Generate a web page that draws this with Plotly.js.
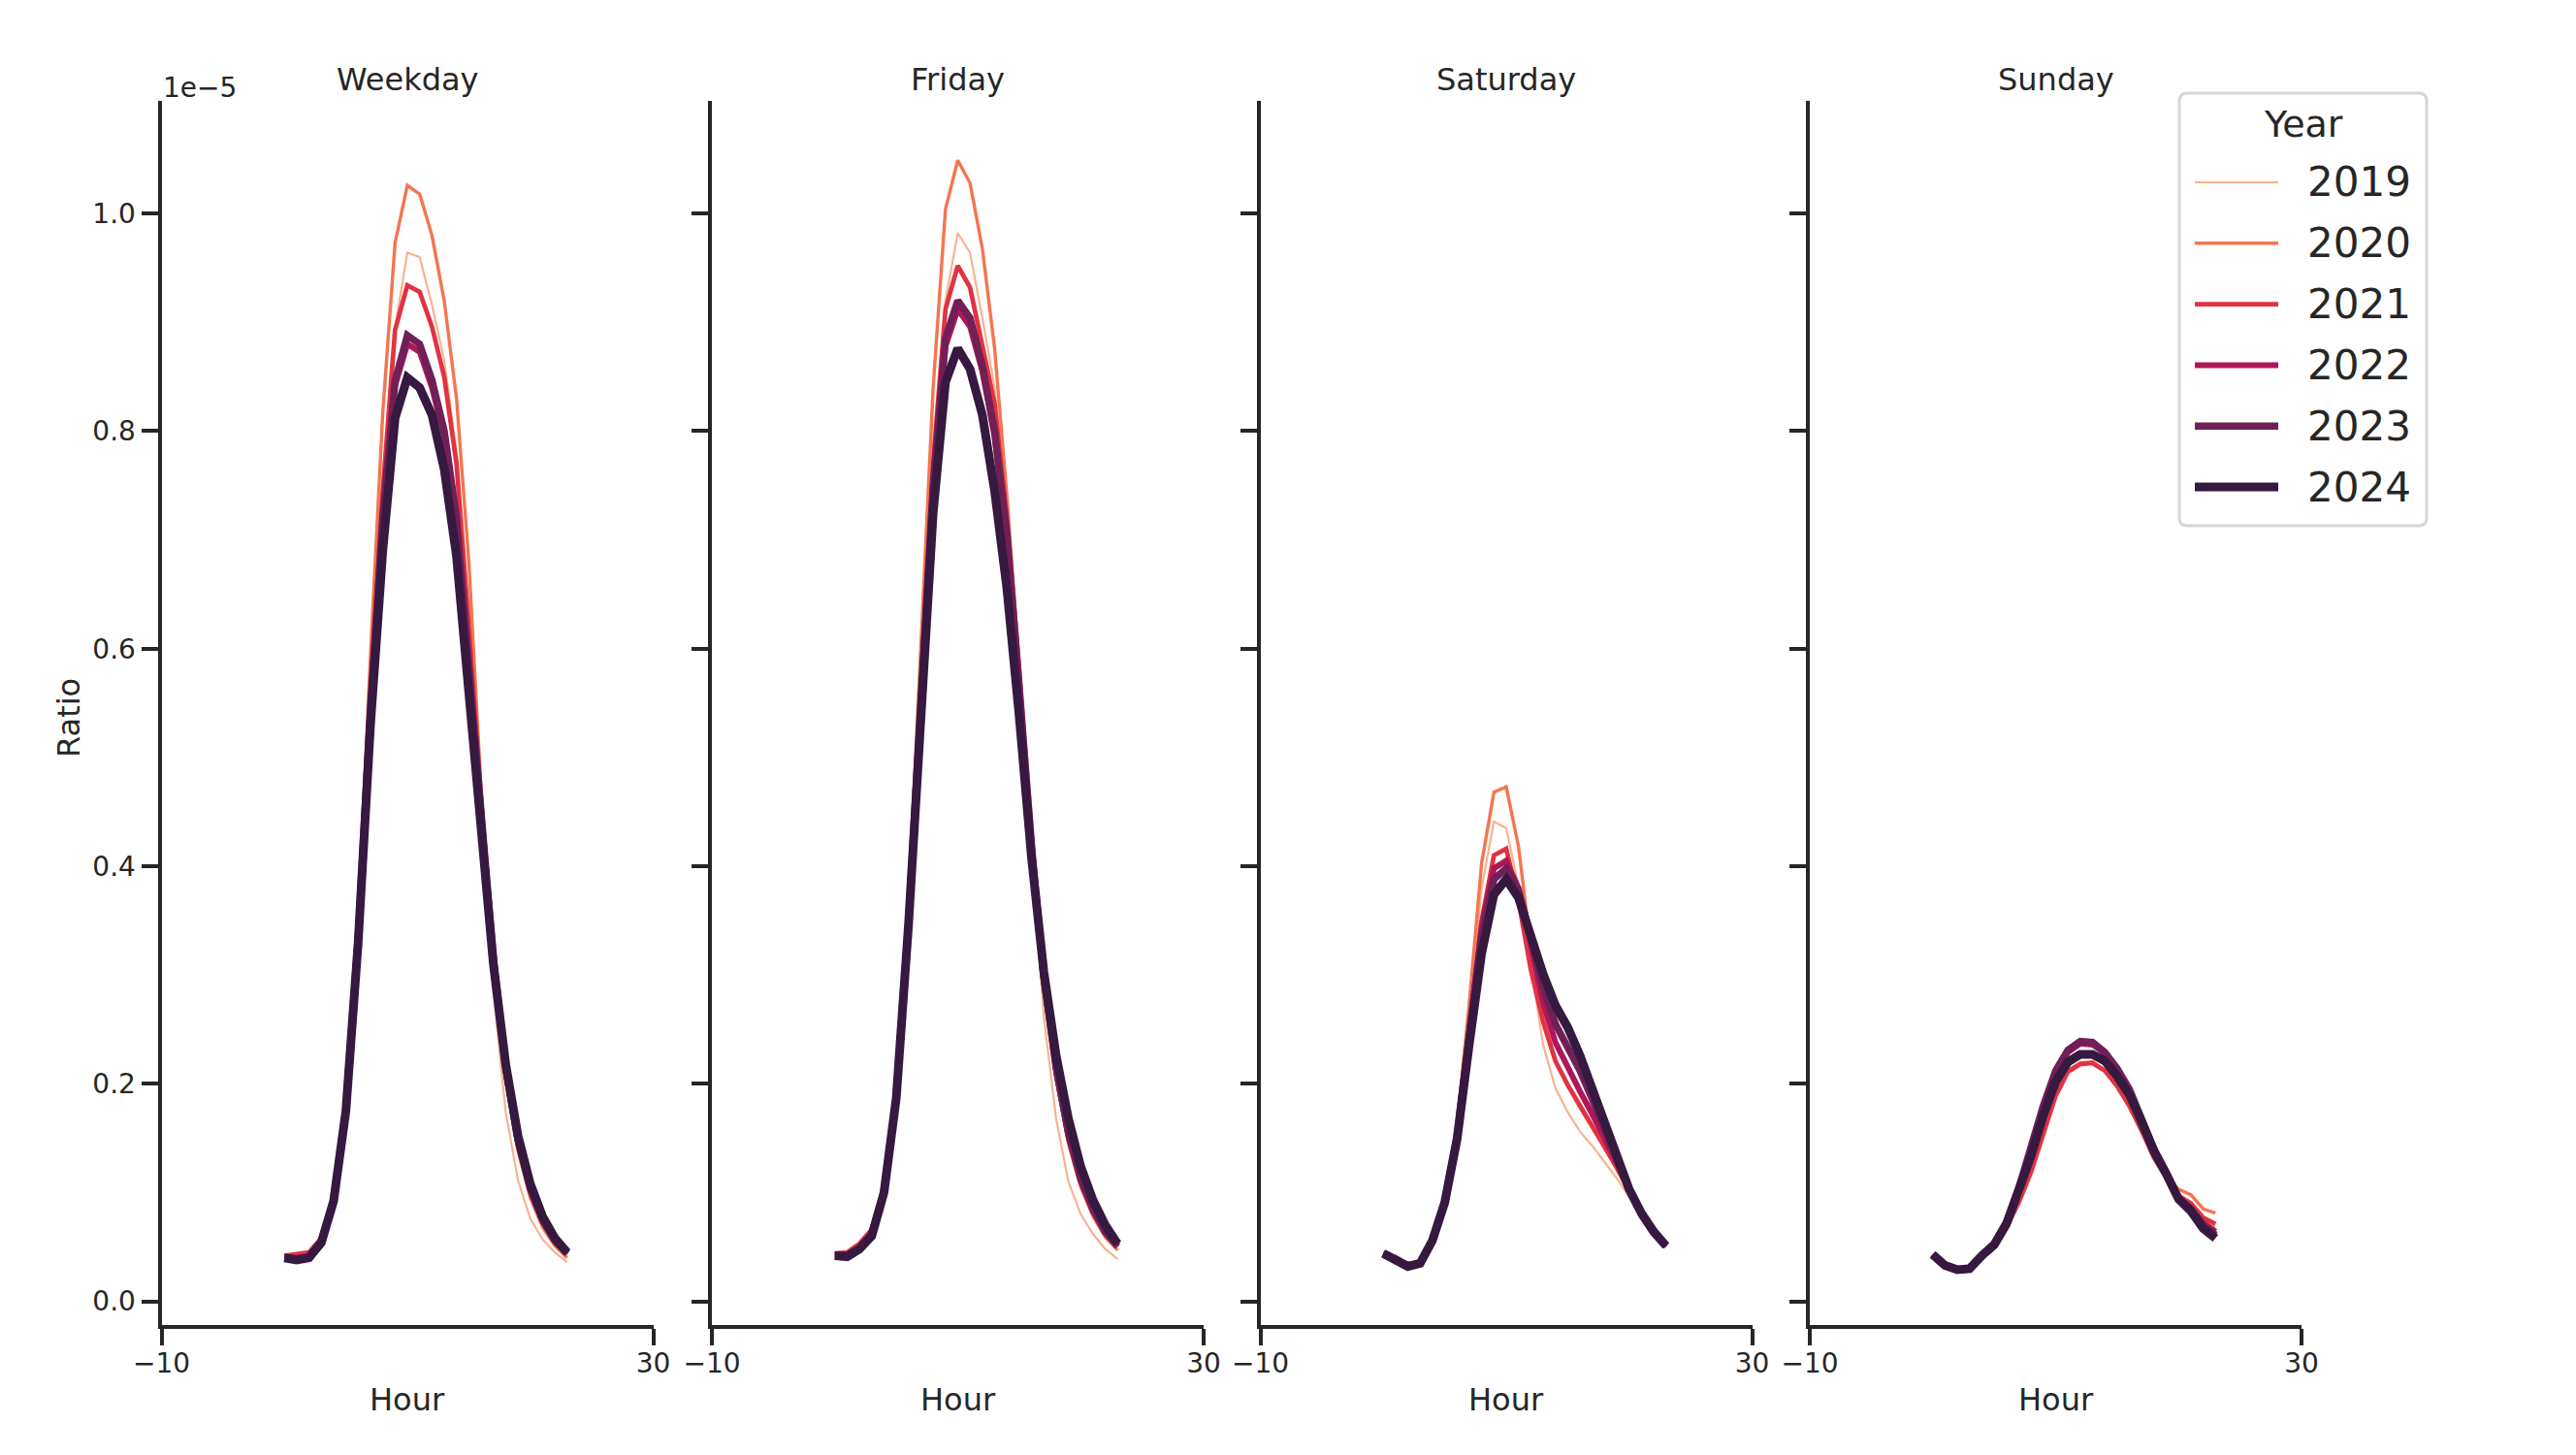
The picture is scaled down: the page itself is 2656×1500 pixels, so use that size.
<!DOCTYPE html>
<html>
<head>
<meta charset="utf-8">
<script src="https://cdn.plot.ly/plotly-3.0.1.min.js"></script>
<style>html,body{margin:0;padding:0;background:#fff;}#chart{width:2656px;height:1500px;}</style>
</head>
<body>
<div id="chart"></div>
<script>
// ---------------- DATA (Ratio values in units of 1e-5) ----------------
const HOURS = [0,1,2,3,4,5,6,7,8,9,10,11,12,13,14,15,16,17,18,19,20,21,22,23];
const YEARS = ['2019','2020','2021','2022','2023','2024'];
const DAYS = ['Weekday','Friday','Saturday','Sunday'];
const X_TICKS = [-10, 30];
const X_TICK_TEXT = ['\u221210', '30'];
const Y_TICKS = [0.0, 0.2, 0.4, 0.6, 0.8, 1.0];
const Y_TICK_TEXT = ['0.0','0.2','0.4','0.6','0.8','1.0'];
const Y_MULTIPLIER_LABEL = '1e\u22125';

const weekday2019 = [0.040,0.040,0.042,0.056,0.093,0.178,0.340,0.570,0.760,0.895,0.964,0.960,0.916,0.865,0.780,0.630,0.455,0.285,0.174,0.111,0.076,0.057,0.045,0.036];
const weekday2020 = [0.041,0.041,0.043,0.057,0.094,0.180,0.350,0.594,0.817,0.973,1.026,1.018,0.980,0.920,0.830,0.680,0.470,0.315,0.205,0.138,0.095,0.068,0.051,0.040];
const weekday2021 = [0.042,0.043,0.045,0.058,0.094,0.178,0.340,0.560,0.745,0.893,0.934,0.928,0.896,0.850,0.770,0.620,0.460,0.320,0.213,0.145,0.100,0.072,0.054,0.043];
const weekday2022 = [0.041,0.040,0.042,0.056,0.093,0.177,0.337,0.550,0.725,0.842,0.880,0.873,0.840,0.795,0.715,0.585,0.440,0.310,0.212,0.146,0.102,0.074,0.055,0.044];
const weekday2023 = [0.040,0.039,0.041,0.055,0.093,0.176,0.335,0.545,0.720,0.846,0.888,0.880,0.847,0.800,0.720,0.590,0.445,0.315,0.215,0.148,0.104,0.075,0.056,0.044];
const weekday2024 = [0.040,0.038,0.040,0.054,0.092,0.175,0.330,0.530,0.690,0.812,0.849,0.840,0.815,0.765,0.685,0.565,0.432,0.310,0.218,0.152,0.108,0.078,0.058,0.045];

const friday2019 = [0.042,0.043,0.050,0.063,0.102,0.190,0.355,0.575,0.790,0.920,0.982,0.964,0.904,0.840,0.725,0.575,0.420,0.262,0.168,0.110,0.080,0.062,0.048,0.039];
const friday2020 = [0.043,0.044,0.051,0.064,0.103,0.192,0.365,0.600,0.840,1.004,1.049,1.028,0.968,0.876,0.740,0.585,0.440,0.300,0.205,0.145,0.105,0.078,0.059,0.047];
const friday2021 = [0.044,0.045,0.053,0.066,0.104,0.190,0.355,0.560,0.770,0.912,0.952,0.932,0.880,0.825,0.720,0.580,0.420,0.292,0.208,0.150,0.109,0.082,0.062,0.050];
const friday2022 = [0.043,0.043,0.050,0.063,0.102,0.189,0.352,0.552,0.752,0.878,0.912,0.896,0.855,0.795,0.700,0.560,0.415,0.295,0.212,0.152,0.111,0.083,0.063,0.050];
const friday2023 = [0.042,0.042,0.049,0.062,0.101,0.188,0.350,0.550,0.750,0.885,0.920,0.904,0.860,0.800,0.705,0.565,0.418,0.298,0.215,0.155,0.113,0.085,0.064,0.051];
const friday2024 = [0.042,0.041,0.048,0.060,0.100,0.187,0.347,0.538,0.725,0.845,0.876,0.857,0.815,0.745,0.655,0.538,0.408,0.303,0.226,0.168,0.124,0.093,0.070,0.053];

const saturday2019 = [0.043,0.039,0.034,0.036,0.057,0.094,0.158,0.262,0.380,0.441,0.435,0.381,0.309,0.236,0.196,0.174,0.156,0.143,0.128,0.113,0.096,0.080,0.065,0.052];
const saturday2020 = [0.043,0.040,0.035,0.037,0.058,0.095,0.162,0.275,0.403,0.468,0.473,0.418,0.325,0.262,0.222,0.198,0.178,0.160,0.141,0.121,0.100,0.079,0.062,0.050];
const saturday2021 = [0.044,0.040,0.034,0.036,0.057,0.093,0.155,0.252,0.350,0.410,0.416,0.368,0.305,0.257,0.221,0.199,0.180,0.162,0.143,0.123,0.102,0.080,0.063,0.050];
const saturday2022 = [0.044,0.040,0.033,0.036,0.057,0.093,0.154,0.250,0.345,0.398,0.405,0.380,0.325,0.275,0.238,0.214,0.193,0.172,0.150,0.127,0.103,0.080,0.063,0.051];
const saturday2023 = [0.044,0.039,0.033,0.035,0.056,0.092,0.152,0.245,0.335,0.388,0.398,0.378,0.335,0.290,0.255,0.235,0.212,0.186,0.158,0.130,0.103,0.080,0.063,0.051];
const saturday2024 = [0.044,0.039,0.032,0.035,0.056,0.091,0.149,0.237,0.320,0.374,0.388,0.371,0.335,0.301,0.272,0.252,0.226,0.194,0.163,0.131,0.103,0.081,0.064,0.051];

const sunday2019 = [0.043,0.033,0.029,0.030,0.041,0.051,0.069,0.093,0.123,0.158,0.192,0.213,0.220,0.220,0.213,0.198,0.179,0.156,0.131,0.113,0.097,0.089,0.076,0.068];
const sunday2020 = [0.043,0.033,0.029,0.030,0.041,0.051,0.068,0.092,0.121,0.157,0.191,0.212,0.219,0.220,0.212,0.197,0.178,0.156,0.132,0.115,0.103,0.098,0.085,0.081];
const sunday2021 = [0.043,0.033,0.029,0.030,0.041,0.051,0.068,0.091,0.119,0.155,0.189,0.211,0.218,0.219,0.212,0.198,0.180,0.157,0.132,0.114,0.097,0.090,0.077,0.071];
const sunday2022 = [0.043,0.033,0.029,0.030,0.042,0.053,0.072,0.103,0.140,0.178,0.210,0.229,0.237,0.236,0.228,0.213,0.194,0.167,0.139,0.117,0.095,0.086,0.072,0.064];
const sunday2023 = [0.043,0.033,0.029,0.030,0.042,0.053,0.073,0.104,0.142,0.180,0.212,0.231,0.239,0.238,0.229,0.214,0.195,0.168,0.140,0.118,0.095,0.085,0.070,0.061];
const sunday2024 = [0.043,0.033,0.029,0.030,0.042,0.052,0.071,0.100,0.134,0.171,0.202,0.220,0.227,0.227,0.221,0.207,0.190,0.165,0.138,0.117,0.094,0.083,0.067,0.058];

// ---------------- STYLE ----------------
const COLORS = ['#f6b48f','#f37651','#e13342','#ad1759','#701f57','#35193e'];
const WIDTHS = [2.2, 3.4, 4.7, 6.0, 7.4, 9.0];
const SERIES = {
  Weekday: [weekday2019, weekday2020, weekday2021, weekday2022, weekday2023, weekday2024],
  Friday: [friday2019, friday2020, friday2021, friday2022, friday2023, friday2024],
  Saturday: [saturday2019, saturday2020, saturday2021, saturday2022, saturday2023, saturday2024],
  Sunday: [sunday2019, sunday2020, sunday2021, sunday2022, sunday2023, sunday2024]
};

const W = 2656, H = 1500;
const FONT = 'DejaVu Sans, Liberation Sans, sans-serif';
const INK = '#262626';
const px = p => p / W;
const py = p => 1 - p / H;

const PANEL_LEFT = [166.5, 734, 1299.5, 1866];
const PANEL_W = 507;
const PLOT_TOP = 104, PLOT_BOTTOM = 1366;
const Y_RANGE = [-0.0218, 1.1036];

const traces = [];
DAYS.forEach((day, d) => {
  const sfx = d === 0 ? '' : String(d + 1);
  YEARS.forEach((yr, k) => {
    traces.push({
      type: 'scatter', mode: 'lines',
      x: HOURS, y: SERIES[day][k],
      name: yr, showlegend: false,
      xaxis: 'x' + sfx, yaxis: 'y' + sfx,
      line: {color: COLORS[k], width: WIDTHS[k]},
      hoverinfo: 'skip'
    });
  });
});

const layout = {
  width: W, height: H,
  margin: {l: 0, r: 0, t: 0, b: 0, pad: 0},
  paper_bgcolor: '#ffffff', plot_bgcolor: '#ffffff',
  font: {family: FONT, color: INK, size: 28},
  showlegend: false,
  annotations: [],
  shapes: []
};

DAYS.forEach((day, d) => {
  const sfx = d === 0 ? '' : String(d + 1);
  const x0 = PANEL_LEFT[d], x1 = x0 + PANEL_W;
  layout['xaxis' + sfx] = {
    domain: [px(x0), px(x1)],
    anchor: 'y' + sfx,
    range: [-10, 30],
    tickmode: 'array', tickvals: X_TICKS, ticktext: X_TICK_TEXT,
    ticks: 'outside', ticklen: 17, tickwidth: 4, tickcolor: INK,
    showline: true, linewidth: 4, linecolor: INK,
    showgrid: false, zeroline: false,
    tickfont: {family: FONT, size: 28, color: INK},
    ticklabelstandoff: -6,
    fixedrange: true
  };
  layout['yaxis' + sfx] = {
    domain: [py(PLOT_BOTTOM), py(PLOT_TOP)],
    anchor: 'x' + sfx,
    range: Y_RANGE,
    tickmode: 'array', tickvals: Y_TICKS, ticktext: Y_TICK_TEXT,
    ticks: 'outside', ticklen: 17, tickwidth: 4, tickcolor: INK,
    showline: true, linewidth: 4, linecolor: INK,
    showgrid: false, zeroline: false,
    showticklabels: d === 0,
    tickfont: {family: FONT, size: 28, color: INK},
    ticklabelstandoff: 0,
    fixedrange: true
  };
  // subplot title
  layout.annotations.push({
    text: day, xref: 'paper', yref: 'paper',
    x: px(x0 + PANEL_W / 2), y: py(82), xanchor: 'center', yanchor: 'middle',
    showarrow: false, font: {family: FONT, size: 32, color: INK}
  });
  // x axis title
  layout.annotations.push({
    text: 'Hour', xref: 'paper', yref: 'paper',
    x: px(x0 + PANEL_W / 2), y: py(1443), xanchor: 'center', yanchor: 'middle',
    showarrow: false, font: {family: FONT, size: 32, color: INK}
  });
});

// y axis title
layout.annotations.push({
  text: 'Ratio', xref: 'paper', yref: 'paper',
  x: px(71), y: py(740), xanchor: 'center', yanchor: 'middle', textangle: -90,
  showarrow: false, font: {family: FONT, size: 32, color: INK}
});
// offset (multiplier) label
layout.annotations.push({
  text: Y_MULTIPLIER_LABEL, xref: 'paper', yref: 'paper',
  x: px(166), y: py(109), xanchor: 'left', yanchor: 'bottom',
  showarrow: false, font: {family: FONT, size: 28, color: INK}
});

// ---------------- LEGEND (drawn manually to match line samples) ----------------
const LG = {x0: 2247, x1: 2502, y0: 96, y1: 542, r: 8};
(function () {
  const X = v => px(v), Y = v => py(v);
  const rx = LG.r;
  const p = [
    'M', X(LG.x0 + rx), Y(LG.y0),
    'L', X(LG.x1 - rx), Y(LG.y0),
    'Q', X(LG.x1), Y(LG.y0), X(LG.x1), Y(LG.y0 + rx),
    'L', X(LG.x1), Y(LG.y1 - rx),
    'Q', X(LG.x1), Y(LG.y1), X(LG.x1 - rx), Y(LG.y1),
    'L', X(LG.x0 + rx), Y(LG.y1),
    'Q', X(LG.x0), Y(LG.y1), X(LG.x0), Y(LG.y1 - rx),
    'L', X(LG.x0), Y(LG.y0 + rx),
    'Q', X(LG.x0), Y(LG.y0), X(LG.x0 + rx), Y(LG.y0), 'Z'
  ].join(' ');
  layout.shapes.push({
    type: 'path', xref: 'paper', yref: 'paper', path: p,
    line: {color: '#d6d6d6', width: 3}, fillcolor: 'rgba(255,255,255,0.8)', layer: 'above'
  });
})();
layout.annotations.push({
  text: 'Year', xref: 'paper', yref: 'paper',
  x: px(2375), y: py(128), xanchor: 'center', yanchor: 'middle',
  showarrow: false, font: {family: FONT, size: 38, color: INK}
});
const LEG_ROW0 = 188, LEG_ROW_STEP = 62.8;
YEARS.forEach((yr, k) => {
  const yy = LEG_ROW0 + k * LEG_ROW_STEP;
  layout.shapes.push({
    type: 'line', xref: 'paper', yref: 'paper',
    x0: px(2263), x1: px(2349), y0: py(yy), y1: py(yy),
    line: {color: COLORS[k], width: WIDTHS[k]}, layer: 'above'
  });
  layout.annotations.push({
    text: yr, xref: 'paper', yref: 'paper',
    x: px(2377), y: py(yy), xanchor: 'left', yanchor: 'middle',
    showarrow: false, font: {family: FONT, size: 42, color: INK}
  });
});

Plotly.newPlot('chart', traces, layout, {staticPlot: true, displayModeBar: false});
</script>
</body>
</html>
